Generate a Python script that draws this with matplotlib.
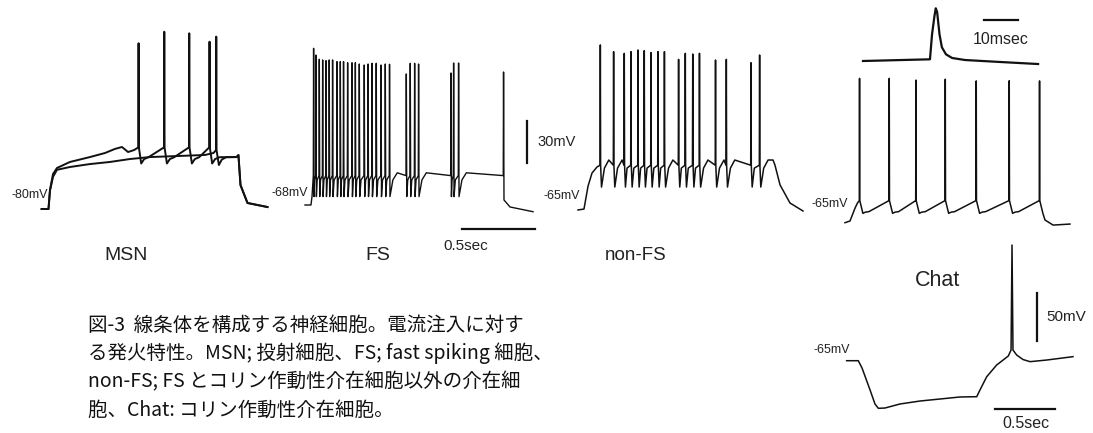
import numpy as np
import matplotlib
matplotlib.use("Agg")
import matplotlib.pyplot as plt

#=============================================#
#================ DATOS ======================#
#=============================================#

# MSN (dos trazos), t en s desde el inicio del pulso, V en mV
msn_a_pre_t = [-0.047, 0.0, 0.010, 0.031, 0.058, 0.147, 0.284, 0.387, 0.455, 0.503, 0.545, 0.586]
msn_a_pre_v = [-80, -80, -66.4, -55, -50.7, -46.4, -42.9, -40, -37.1, -35.7, -39.3, -37.9]
msn_a_spk_t = [0.615, 0.791, 0.962, 1.101]
msn_a_spk_v = [38.4, 46.6, 45.5, 39.5]
msn_b_pre_t = [-0.047, 0.0, 0.010, 0.031, 0.058, 0.147, 0.284, 0.421, 0.558, 0.695, 0.900, 1.072, 1.130]
msn_b_pre_v = [-80, -80, -67, -57, -52, -50, -47.9, -46.4, -44.3, -42.9, -42.1, -41.4, -40]
msn_b_spk_t = [1.147]
msn_b_spk_v = [43.1]
msn_end_t = [1.288, 1.301, 1.315, 1.363, 1.500]
msn_end_v = [-42.9, -41.5, -62.9, -75.7, -78.6]

# FS
fs_pre_t = [-0.048, -0.007, 0.0]
fs_pre_v = [-68, -68, -62]
fs_spk_t = [0.009, 0.025, 0.048, 0.071, 0.094, 0.116, 0.139, 0.169, 0.192, 0.214,
            0.242, 0.272, 0.295, 0.322, 0.356, 0.382, 0.409, 0.438, 0.471, 0.500,
            0.529, 0.644, 0.671, 0.701, 0.728, 0.950, 0.968, 1.002, 1.310]
fs_spk_v = [43.9, 39.1, 36.1, 35.6, 35.1, 35.6, 35.6, 34.4, 34.4, 34.4,
            33.6, 33.6, 33.6, 32.7, 32.0, 32.7, 33.2, 33.2, 32.0, 32.7,
            32.5, 25.6, 33.2, 33.2, 32.7, 26.3, 33.4, 33.4, 27.0]
fs_end_t = [1.315, 1.356, 1.514]
fs_end_v = [-64.4, -69.4, -72.8]

# non-FS
nfs_pre_t = [-0.048, -0.007, 0.021, 0.048, 0.082]
nfs_pre_v = [-65, -64.3, -47.9, -38.6, -34.3]
nfs_spk_t = [0.103, 0.194, 0.267, 0.313, 0.361, 0.404, 0.450, 0.498, 0.542,
             0.639, 0.685, 0.736, 0.782, 0.892, 0.966, 1.135, 1.194]
nfs_spk_v = [52.9, 48.1, 46.9, 48.1, 49.3, 48.8, 47.4, 48.1, 48.1,
             42.6, 46.9, 46.4, 46.9, 42.1, 42.6, 40.2, 45.7]
nfs_end_t = [1.288, 1.301, 1.336, 1.404, 1.493]
nfs_end_v = [-29.3, -32.9, -47.1, -60, -65.7]

# Chat: tren de espigas
chat_pre_t = [-0.067, -0.025, 0.017, 0.0375]
chat_pre_v = [-65, -64, -56.4, -53.4]
chat_spk_t = [0.0525, 0.300, 0.5225, 0.767, 1.025, 1.300, 1.5525]
chat_spk_v = [19.9, 19.9, 18.9, 19.4, 18.4, 18.5, 18.4]
chat_end_t = [1.600, 1.667, 1.808]
chat_end_v = [-63.4, -66.4, -65.8]

# Chat: una espiga ampliada (t en ms)
ap_t = [0, 19.7, 20.3, 21.0, 21.4, 21.8, 22.5, 23.2, 24.4, 26.2, 30.0, 40.3, 51.5]
ap_v = [-55, -52.6, -17.4, 8.4, 20, 14.7, -17, -35.5, -45.5, -50.7, -53.6, -56.4, -59.3]

# Chat: pulso hiperpolarizante y rebote
hyp_t = [-0.097, 0.0, 0.031, 0.098, 0.139, 0.167, 0.222, 0.347, 0.514, 0.681, 0.847,
         0.987, 1.014, 1.070, 1.153, 1.250, 1.273, 1.281, 1.289, 1.320, 1.373,
         1.431, 1.570, 1.789]
hyp_v = [-65, -65, -72.6, -95.5, -110.1, -114.6, -114.3, -110.1, -107, -104.9, -102.8,
         -102.5, -95.5, -81.7, -69.5, -60.1, -53.9, 55.5, -53.9, -59.1, -63.8,
         -66, -64.3, -60.8]

W, H = 1093, 433

#=============================================#
#============== FUNCIONES ====================#
#=============================================#

def spiking(spk_t, spk_v, v_pre, v_ahp, v_plat, t_ahp, t_end):
    t, v = [], []
    for i, (ts, vp) in enumerate(zip(spk_t, spk_v)):
        nxt = spk_t[i + 1] if i + 1 < len(spk_t) else t_end
        gap = nxt - ts - t_ahp
        t += [ts, ts + 0.002, ts + 0.004, ts + t_ahp]
        v += [v_pre, vp, v_pre, v_ahp]
        if gap > 0:
            t.append(ts + t_ahp + min(0.3 * gap, 0.02))
            v.append(v_ahp + 0.7 * (v_plat - v_ahp))
        if gap > 0.06:
            t.append(ts + t_ahp + 0.05)
            v.append(v_plat)
    return t, v


def panel(x0, y0, v0, sx, sy):
    # (x0, y0) en pixeles corresponde a t=0, V=v0
    ax = fig.add_axes([0, 0, 1, 1])
    ax.set_axis_off()
    ax.patch.set_alpha(0)
    ax.set_xlim(-x0 / sx, (W - x0) / sx)
    ax.set_ylim(v0 - (H - y0) / sy, v0 + y0 / sy)
    return ax


def txt(x, y, s, **kw):
    fig.text(x / W, 1 - y / H, s, va="center", **kw)


fig = plt.figure(figsize=(W / 100, H / 100), dpi=100)
lab = dict(family="Liberation Sans", color="#222222")

#=============================================#
#================== MSN ======================#
#=============================================#
ax = panel(48.5, 209, -80, 146, 1.4)
st, sv = spiking(msn_a_spk_t, msn_a_spk_v, -36, -47.5, -43, 0.02, 1.288)
ax.plot(msn_a_pre_t + st + msn_end_t, msn_a_pre_v + sv + msn_end_v, color="#111111", lw=1.4)
st, sv = spiking(msn_b_spk_t, msn_b_spk_v, -38, -48.6, -43, 0.02, 1.288)
ax.plot(msn_b_pre_t + st + msn_end_t, msn_b_pre_v + sv + msn_end_v, color="#111111", lw=1.4)

#=============================================#
#=================== FS ======================#
#=============================================#
ax = panel(312, 205, -68, 146, 1.4)
st, sv = spiking(fs_spk_t, fs_spk_v, -47, -62, -45, 0.005, 1.312)
ax.plot(fs_pre_t + st + fs_end_t, fs_pre_v + sv + fs_end_v, color="#111111", lw=1.0)
ax.plot([1.473, 1.473], [-38, -8], color="#111111", lw=1.6)
ax.plot([1.027, 1.527], [-85.1, -85.1], color="#111111", lw=1.6)

#=============================================#
#================= non-FS ====================#
#=============================================#
ax = panel(585, 210, -65, 146, 1.4)
st, sv = spiking(nfs_spk_t, nfs_spk_v, -33, -48.6, -29.3, 0.01, 1.288)
ax.plot(nfs_pre_t + st + nfs_end_t, nfs_pre_v + sv + nfs_end_v, color="#111111", lw=1.1)

#=============================================#
#================== Chat =====================#
#=============================================#
ax = panel(853, 222.7, -65, 120, 1.7)
st, sv = spiking(chat_spk_t, chat_spk_v, -52, -59.5, -58.5, 0.03, 1.56)
ax.plot(chat_pre_t + st + chat_end_t, chat_pre_v + sv + chat_end_v, color="#111111", lw=1.1)

ax = panel(863, 61, -55, 3.4, 0.703)
ax.plot(ap_t, ap_v, color="#111111", lw=1.6)
ax.plot([35.6, 45.6], [3.3, 3.3], color="#111111", lw=1.6)

ax = panel(858.3, 360.7, -65, 120, 0.96)
ax.plot(hyp_t, hyp_v, color="#111111", lw=1.1)
ax.plot([1.489, 1.489], [-44.5, 5.5], color="#111111", lw=1.6)
ax.plot([1.139, 1.639], [-115.3, -115.3], color="#111111", lw=1.6)

#=============================================#
#================ TEXTOS =====================#
#=============================================#
txt(48, 195, "-80mV", ha="right", fontsize=9, **lab)
txt(308, 193, "-68mV", ha="right", fontsize=9, **lab)
txt(580, 196, "-65mV", ha="right", fontsize=9, **lab)
txt(848, 204, "-65mV", ha="right", fontsize=9, **lab)
txt(850, 350, "-65mV", ha="right", fontsize=9, **lab)
txt(537, 142, "30mV", ha="left", fontsize=10.5, **lab)
txt(1046, 317, "50mV", ha="left", fontsize=11, **lab)
txt(973, 39, "10msec", ha="left", fontsize=11.5, **lab)
txt(466, 246, "0.5sec", ha="center", fontsize=11, **lab)
txt(1026, 423, "0.5sec", ha="center", fontsize=11.5, **lab)
txt(126, 256, "MSN", ha="center", fontsize=14, **lab)
txt(378, 256, "FS", ha="center", fontsize=14, **lab)
txt(636, 256, "non-FS", ha="center", fontsize=13.5, **lab)
txt(937, 281, "Chat", ha="center", fontsize=15.5, **lab)

caption = ["図-3  線条体を構成する神経細胞。電流注入に対す",
           "る発火特性。MSN; 投射細胞、FS; fast spiking 細胞、",
           "non-FS; FS とコリン作動性介在細胞以外の介在細",
           "胞、Chat: コリン作動性介在細胞。"]
for i, line in enumerate(caption):
    txt(88, 325 + 28.5 * i, line, ha="left", fontsize=14,
        family=["Noto Sans CJK JP", "DejaVu Sans"], color="#111111")

fig.savefig("out.png", dpi=100)
